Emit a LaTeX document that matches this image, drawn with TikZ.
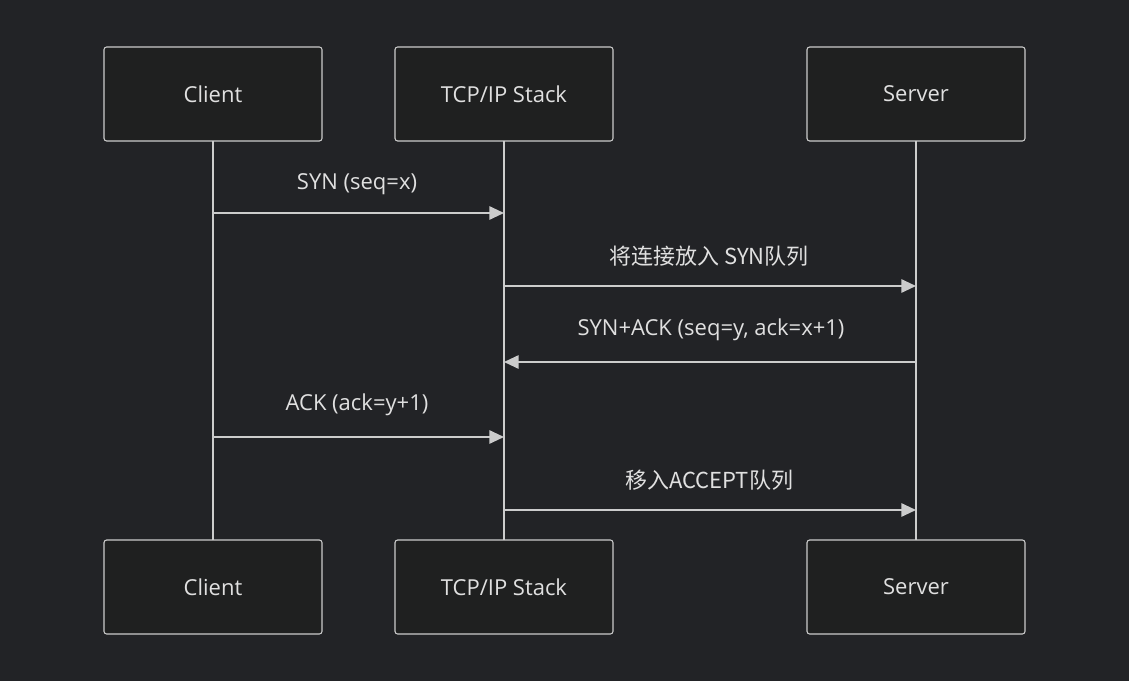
\documentclass[tikz,border=0pt]{standalone}
\usepackage{fontspec}
\setmainfont{Open Sans}
\newfontfamily\cjk{Noto Sans CJK SC}
\usetikzlibrary{arrows.meta}
\definecolor{bgcol}{HTML}{222326}
\definecolor{boxcol}{HTML}{1F2020}
\definecolor{linecol}{HTML}{CCCCCC}
\definecolor{textcol}{HTML}{E0E0E0}

\begin{document}
\begin{tikzpicture}[x=0.75pt, y=-0.75pt, font=\fontsize{16.5}{19}\selectfont]
\tikzstyle{actor}=[rectangle, rounded corners=2pt, draw=linecol, fill=boxcol, line width=0.8pt, minimum width=163.5pt, minimum height=70.5pt, inner sep=0pt, text=textcol]
\tikzstyle{lifestyle}=[draw=linecol, line width=1.5pt]
\tikzstyle{msgstyle}=[draw=linecol, line width=1.4pt, -{Triangle[length=11pt, width=10pt]}]
\tikzstyle{msglabel}=[text=textcol, inner sep=0pt]

\fill[bgcol] (0,0) rectangle (1129,681);
\useasboundingbox (0,0) rectangle (1129,681);

% lifelines
\coordinate (L0x0) at (213,141);
\coordinate (L0x1) at (213,540);
\coordinate (L1x0) at (504,141);
\coordinate (L1x1) at (504,540);
\coordinate (L2x0) at (916,141);
\coordinate (L2x1) at (916,540);
\draw[lifestyle] (L0x0) -- (L0x1);
\draw[lifestyle] (L1x0) -- (L1x1);
\draw[lifestyle] (L2x0) -- (L2x1);

% participants
\node[actor] (P0x0) at (213,94) {Client};
\node[actor] (P1x0) at (504,94) {TCP/IP Stack};
\node[actor] (P2x0) at (916,94) {Server};
\node[actor] (P0x1) at (213,587) {Client};
\node[actor] (P1x1) at (504,587) {TCP/IP Stack};
\node[actor] (P2x1) at (916,587) {Server};

% messages
\coordinate (M0x1) at (213,213);
\coordinate (M1x1) at (504,213);
\draw[msgstyle] (M0x1) -- (M1x1);
\node[msglabel] at (357,184) {SYN (seq=x)};
\coordinate (M1x2) at (504,286);
\coordinate (M2x2) at (916,286);
\draw[msgstyle] (M1x2) -- (M2x2);
\node[msglabel] at (709,256) {\cjk 将连接放入 SYN队列};
\coordinate (M2x3) at (916,362);
\coordinate (M1x3) at (504,362);
\draw[msgstyle] (M2x3) -- (M1x3);
\node[msglabel] at (711,330) {SYN+ACK (seq=y, ack=x+1)};
\coordinate (M0x4) at (213,437);
\coordinate (M1x4) at (504,437);
\draw[msgstyle] (M0x4) -- (M1x4);
\node[msglabel] at (357,405) {ACK (ack=y+1)};
\coordinate (M1x5) at (504,510);
\coordinate (M2x5) at (916,510);
\draw[msgstyle] (M1x5) -- (M2x5);
\node[msglabel] at (709,480) {\cjk 移入ACCEPT队列};
\end{tikzpicture}
\end{document}
